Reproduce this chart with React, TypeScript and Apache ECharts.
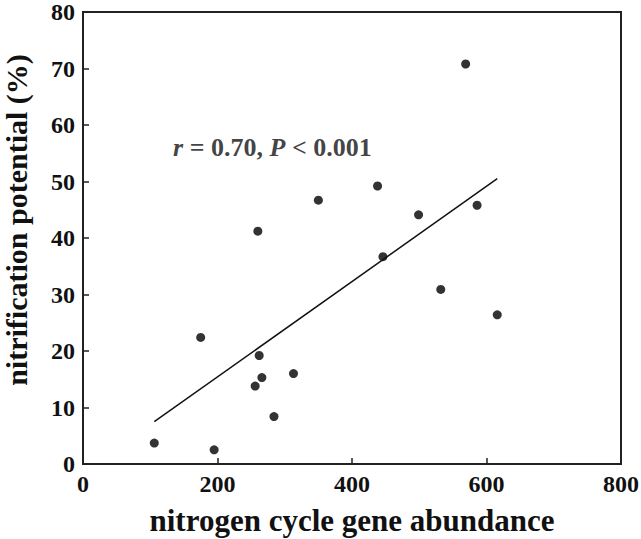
import React, { useEffect, useRef } from "react";
import * as echarts from "echarts";

const geneAbundance = [106, 195, 175, 260, 262, 266, 256, 284, 313, 350, 438, 446, 499, 532, 569, 586, 616];
const nitrification = [3.7, 2.5, 22.4, 41.2, 19.2, 15.3, 13.8, 8.4, 16.0, 46.7, 49.2, 36.7, 44.1, 30.9, 70.8, 45.8, 26.4];
const fitX = [106, 616];
const fitY = [7.5, 50.5];
const annotationPos = [134, 56.0];
const xTicks = [0, 200, 400, 600, 800];
const yTicks = [0, 10, 20, 30, 40, 50, 60, 70, 80];

const FONT = "'Liberation Serif', 'Times New Roman', serif";

export default function App() {
  const ref = useRef<HTMLDivElement>(null);
  useEffect(() => {
    document.body.style.margin = "0";
    const chart = echarts.init(ref.current!, null, { renderer: "svg" });
    const axisCommon = {
      axisLine: { show: true, lineStyle: { color: "#222", width: 2 } },
      axisTick: { show: true, inside: true, length: 6, lineStyle: { color: "#222", width: 1.5 } },
      splitLine: { show: false },
      axisLabel: { color: "#111", fontFamily: FONT, fontWeight: "bold", fontSize: 24 },
    };
    chart.setOption({
      animation: false,
      backgroundColor: "#fff",
      grid: {
        left: 83, right: 20, top: 12, bottom: 75,
        containLabel: false, outerBoundsMode: "none",
        show: true, borderColor: "#222", borderWidth: 2,
      },
      xAxis: {
        ...axisCommon,
        type: "value",
        min: xTicks[0],
        max: xTicks[xTicks.length - 1],
        interval: 200,
        name: "nitrogen cycle gene abundance",
        nameLocation: "middle",
        nameGap: 41,
        nameTextStyle: { color: "#111", fontFamily: FONT, fontWeight: "bold", fontSize: 31 },
        axisLabel: { ...axisCommon.axisLabel, margin: 8 },
      },
      yAxis: {
        ...axisCommon,
        type: "value",
        min: yTicks[0],
        max: yTicks[yTicks.length - 1],
        interval: 10,
        name: "nitrification potential (%)",
        nameLocation: "middle",
        nameGap: 52,
        nameTextStyle: {
          color: "#111", fontFamily: FONT, fontWeight: "bold", fontSize: 30, lineHeight: 30,
          padding: [0, 0, 0, 36],
        },
        axisLabel: { ...axisCommon.axisLabel, margin: 8 },
      },
      series: [
        {
          type: "line",
          data: fitX.map((x, i) => [x, fitY[i]]),
          symbol: "none",
          lineStyle: { color: "#111", width: 1.5 },
          silent: true,
        },
        {
          type: "scatter",
          data: geneAbundance.map((x, i) => [x, nitrification[i]]),
          symbol: "circle",
          symbolSize: 9,
          itemStyle: { color: "#000" },
        },
        {
          type: "scatter",
          data: [annotationPos],
          symbolSize: 0,
          silent: true,
          label: {
            show: true,
            position: "right",
            distance: 0,
            formatter: "{i|r} = 0.70, {i|P} < 0.001",
            color: "#111",
            fontFamily: FONT,
            fontWeight: "bold",
            fontSize: 26,
            rich: {
              i: { fontFamily: FONT, fontWeight: "bold", fontStyle: "italic", fontSize: 26, color: "#111" },
            },
          },
        },
      ],
    });
    return () => chart.dispose();
  }, []);
  return <div ref={ref} style={{ width: 641, height: 539 }} />;
}
